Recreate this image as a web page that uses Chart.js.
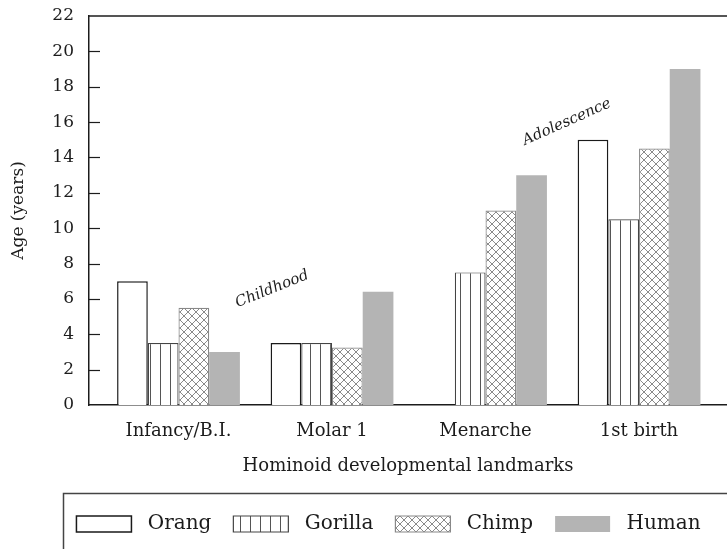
<!DOCTYPE html>
<html><head><meta charset="utf-8">
<script src="https://cdn.jsdelivr.net/npm/chart.js@4"></script>
<style>html,body{margin:0;padding:0;background:#fff}canvas{display:block}</style>
</head><body>
<canvas id="c" width="727" height="549"></canvas>
<script>
// ---- data ----
const categories = ['Infancy/B.I.', 'Molar 1', 'Menarche', '1st birth'];
const seriesNames = ['Orang', 'Gorilla', 'Chimp', 'Human'];
const orang   = [7, 3.5, null, 15];
const gorilla = [3.5, 3.5, 7.5, 10.5];
const chimp   = [5.5, 3.25, 11, 14.5];
const human   = [3, 6.4, 13, 19];
const yTicks  = [0, 2, 4, 6, 8, 10, 12, 14, 16, 18, 20, 22];
const noteTexts = ['Childhood', 'Adolescence'];

// ---- annotation placement (data space) ----
const notePlacement = [
  {x: 0.61, y: 6.55, angle: 22},
  {x: 2.53, y: 16.0, angle: 24}
];

const FONT = '"DejaVu Serif", "Liberation Serif", serif';
const INK = '#1c1c1c';

const canvas = document.getElementById('c');
const mainCtx = canvas.getContext('2d');

function stripePattern() {
  const t = document.createElement('canvas');
  t.width = 10; t.height = 10;
  const g = t.getContext('2d');
  g.fillStyle = '#fff'; g.fillRect(0, 0, 10, 10);
  g.fillStyle = '#555'; g.fillRect(0, 0, 1, 10);
  return mainCtx.createPattern(t, 'repeat');
}
function hatchPattern() {
  const s = 8;
  const t = document.createElement('canvas');
  t.width = s; t.height = s;
  const g = t.getContext('2d');
  g.fillStyle = '#fff'; g.fillRect(0, 0, s, s);
  g.strokeStyle = '#8a8a8a'; g.lineWidth = 1;
  g.beginPath();
  g.moveTo(s / 2, 0); g.lineTo(s, s / 2); g.lineTo(s / 2, s); g.lineTo(0, s / 2); g.closePath();
  g.stroke();
  return mainCtx.createPattern(t, 'repeat');
}

const toPoints = arr => arr.map((v, i) => ({x: i, y: v}));

const datasets = [
  {label: seriesNames[0], data: toPoints(orang),   backgroundColor: '#fff',          borderColor: '#1a1a1a', borderWidth: 1.5},
  {label: seriesNames[1], data: toPoints(gorilla), backgroundColor: stripePattern(), borderColor: '#444',    borderWidth: 1.2},
  {label: seriesNames[2], data: toPoints(chimp),   backgroundColor: hatchPattern(),  borderColor: '#888',    borderWidth: 1.2},
  {label: seriesNames[3], data: toPoints(human),   backgroundColor: '#b4b4b4',       borderColor: '#b4b4b4', borderWidth: 0}
];

const framePlugin = {
  id: 'frame',
  afterDraw(chart) {
    const {ctx, chartArea: a, scales: {x, y}} = chart;
    ctx.save();
    ctx.strokeStyle = INK;
    ctx.lineWidth = 1.5;
    ctx.beginPath(); ctx.moveTo(a.left, a.top); ctx.lineTo(a.right, a.top); ctx.stroke();
    ctx.lineWidth = 1.2;
    y.ticks.forEach((t, i) => {
      if (i === 0 || i === y.ticks.length - 1) return;
      const py = Math.round(y.getPixelForTick(i)) + 0.5;
      ctx.beginPath(); ctx.moveTo(a.left, py); ctx.lineTo(a.left + 11, py); ctx.stroke();
    });
    // legend frame
    const lg = chart.legend;
    ctx.strokeStyle = '#444'; ctx.lineWidth = 1.5;
    ctx.strokeRect(63.5, lg.top + 1.5, 800, 200);
    // notes
    ctx.fillStyle = INK;
    ctx.font = 'italic 15px ' + FONT;
    ctx.textAlign = 'center'; ctx.textBaseline = 'middle';
    noteTexts.forEach((txt, i) => {
      const p = notePlacement[i];
      ctx.save();
      ctx.translate(x.getPixelForValue(p.x), y.getPixelForValue(p.y));
      ctx.rotate(-p.angle * Math.PI / 180);
      ctx.fillText(txt, 0, 0);
      ctx.restore();
    });
    ctx.restore();
  }
};

new Chart(canvas, {
  type: 'bar',
  data: {datasets},
  plugins: [framePlugin],
  options: {
    responsive: false,
    animation: false,
    devicePixelRatio: 1,
    layout: {padding: {top: 16, left: 50, right: 0, bottom: 5}},
    datasets: {bar: {categoryPercentage: 0.8, barPercentage: 1.0, borderSkipped: 'start'}},
    scales: {
      x: {
        type: 'linear', offset: false,
        min: -0.583, max: 3.573,
        afterBuildTicks: s => { s.ticks = categories.map((c, i) => ({value: i})); },
        afterFit: s => { s.height = 87; },
        grid: {display: false, drawTicks: false},
        border: {display: true, color: INK, width: 1.5},
        ticks: {callback: v => categories[v], font: {family: FONT, size: 18}, color: INK, padding: 16, maxRotation: 0, autoSkip: false},
        title: {display: true, text: 'Hominoid developmental landmarks', font: {family: FONT, size: 18}, color: INK, padding: {top: 0, bottom: 15}}
      },
      y: {
        min: 0, max: 22,
        afterBuildTicks: s => { s.ticks = yTicks.map(v => ({value: v})); },
        afterFit: s => { s.width = 39; s.paddingTop = 0; },
        grid: {display: false, drawTicks: false},
        border: {display: true, color: INK, width: 1.5},
        ticks: {font: {family: FONT, size: 17}, color: INK, padding: 15},
        title: {display: true, text: 'Age (years)', font: {family: FONT, size: 17}, color: INK, padding: {top: -42, bottom: 0}}
      }
    },
    plugins: {
      tooltip: {enabled: false},
      legend: {
        position: 'bottom',
        labels: {
          boxWidth: 55, boxHeight: 16,
          padding: 22,
          font: {family: FONT, size: 20},
          color: INK,
          generateLabels: chart => Chart.defaults.plugins.legend.labels.generateLabels(chart).map(l => Object.assign(l, {text: ' ' + l.text}))
        }
      }
    }
  }
});
</script>
</body></html>
